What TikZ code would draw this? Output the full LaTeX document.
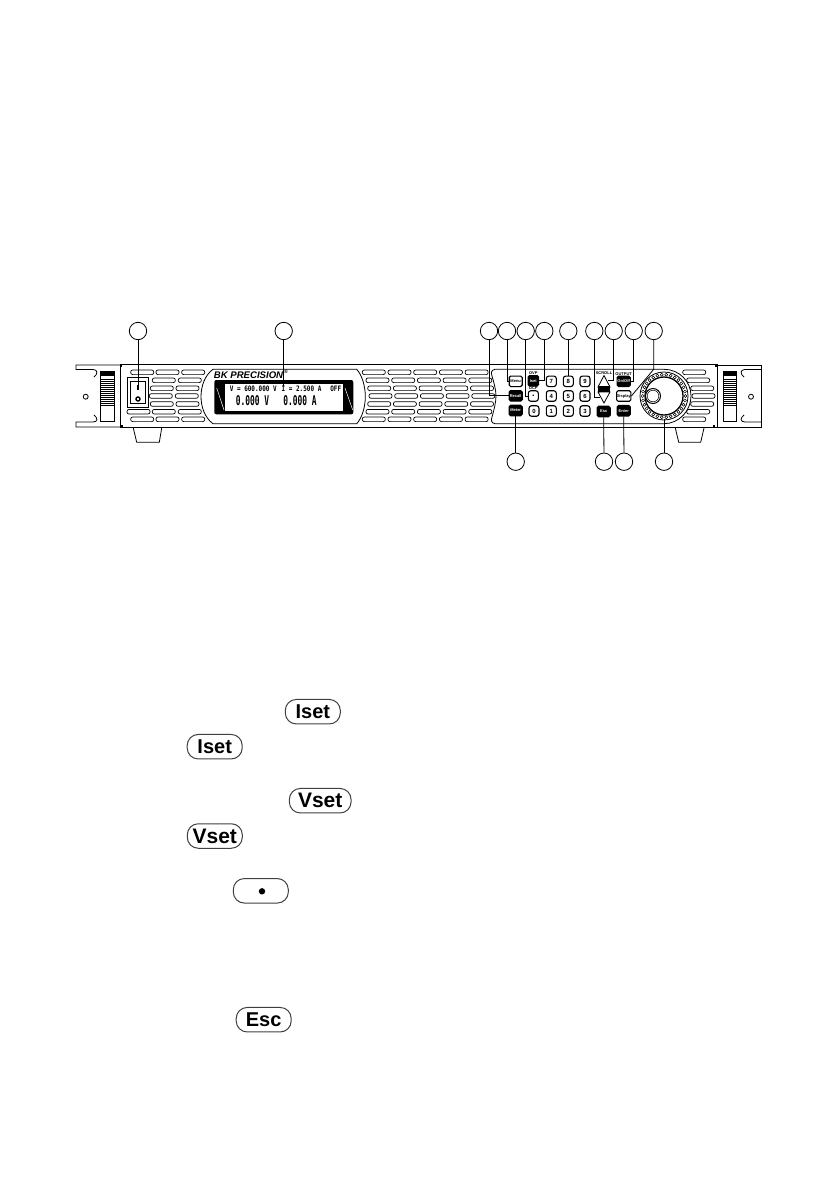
\documentclass[tikz,border=0pt]{standalone}
\usepackage{fontspec}
\setmainfont{Liberation Sans}
\newfontfamily\lcdfont{DejaVu Sans Mono}[BoldFont={DejaVu Sans Mono Bold}]
\newcommand{\lcdsmall}[1]{\scalebox{1}[1.25]{\fontsize{6}{7}\selectfont\lcdfont\bfseries #1}}
\newcommand{\lcdbig}[1]{\scalebox{1}[1.7]{\fontsize{7.9}{8}\selectfont\lcdfont\bfseries #1}}
\begin{document}
\begin{tikzpicture}[x=1pt,y=-1pt,line width=0.8pt,
	callout/.style={circle,draw,fill=white,minimum size=17.4pt,inner sep=0pt},
	slot/.style={rounded corners=2pt,line width=0.7pt},
	keycap/.style={draw,fill=white,rounded corners=1.5pt,line width=1.1pt,minimum width=13pt,minimum height=10.5pt,inner sep=0pt,font=\fontsize{4}{4}\selectfont\bfseries},
	darkcap/.style={keycap,fill=black,text=white},
	numcap/.style={keycap,minimum width=10pt,minimum height=10.5pt,rounded corners=2.5pt,font=\fontsize{6}{6}\selectfont\bfseries},
	tinylabel/.style={inner sep=0pt,font=\fontsize{4}{4}\selectfont\bfseries},
	pill/.style={draw=black!75,fill=white,rounded corners=11pt,line width=1pt,minimum width=55pt,minimum height=24.5pt,inner sep=0pt,font=\fontsize{20}{20}\selectfont\bfseries}]

	\useasboundingbox (0,0) rectangle (839,1191);

	% panel and brackets
	\draw (120,364.5) rectangle (717,427);
	\draw (120,365) -- (76,365) -- (76,369.5) -- (93,369.5) .. controls (98,369.5) and (98,374) .. (94,377);
	\draw (120,427) -- (76,427) -- (76,422) -- (93,422) .. controls (98,422) and (98,418) .. (94,415);
	\draw (717,365) -- (761.7,365) -- (761.7,427) -- (717,427);
	\draw (761.7,369.5) -- (745,369.5) .. controls (740,369.5) and (740,374) .. (744,377);
	\draw (761.7,422) -- (745,422) .. controls (740,422) and (740,418) .. (744,415);
	\draw (85.7,396.7) circle[radius=2.5pt];
	\draw (751,396.7) circle[radius=2.5pt];
	\foreach \cx/\cy in {121/365.5,122/426,716/365.5,714/426} {
		\fill (\cx-1.2,\cy-1.2) rectangle (\cx+1.2,\cy+1.2);
	}

	% handles
	\foreach \hx in {100.7,723.3} {
		\draw (\hx,371) rectangle (\hx+13.5,421.3);
		\fill (\hx,371) rectangle (\hx+13.5,375.7);
		\foreach \hy in {379,381,...,405} {
			\draw[line width=0.6pt] (\hx,\hy) -- (\hx+13.5,\hy);
		}
	}

	% feet
	\draw (133.3,428) -- (136.7,442.3) -- (159.3,442.3) -- (161.7,428);
	\draw (675.3,428) -- (678.7,442.3) -- (700.7,442.3) -- (704,428);

	% vents
	\foreach \vy/\vx in {372.3/130.7,372.3/156,372.3/181.7,
		380.3/152.3,380.3/178.3,388.3/150.3,388.3/176,396/149.3,396/175.3,404/150.3,404/176,
		411.7/127,411.7/152.3,411.7/178.3,419.3/130.7,419.3/156,419.3/181.7,
		372.3/682.7,380.3/686.7,388.3/690.7,396/692,404/690.7,411.7/686.7,419.3/682.7} {
		\draw[slot] (\vx,\vy-2.3) rectangle (\vx+23,\vy+2.3);
	}
	\foreach \vy/\vx in {372.3/362.3,380.3/366,388.3/367.7,396/369,404/367.7,411.7/366,419.3/362.3} {
		\foreach \vk in {0,1,2,3,4} {
			\draw[slot] (\vx+\vk*25.7,\vy-2.3) rectangle (\vx+\vk*25.7+23,\vy+2.3);
		}
	}

	% switch
	\draw (127,377.7) rectangle (148.7,407.3);
	\draw (130.3,381) rectangle (145.3,403.3);
	\draw[line width=1.3pt] (138,385) -- (138,390);
	\draw[line width=1.4pt] (138,399) circle[radius=2pt];

	% display
	\draw[fill=white] (213,369.3) -- (356.7,369.3) .. controls (362,375) and (365.3,386) .. (365.3,396.7) .. controls (365.3,407) and (362,418) .. (356.7,423.7) -- (213,423.7) .. controls (205,418) and (201,407) .. (201,396.7) .. controls (201,386) and (205,375) .. (213,369.3) -- cycle;
	\fill[rounded corners=2pt] (214.3,380) rectangle (353.3,414.3);
	\fill[white] (225,384) rectangle (343.3,411);
	\draw[white,line width=0.5pt] (216.7,388) -- (224,410);
	\draw[white,line width=0.5pt] (345,388) -- (352.7,410);
	\node[inner sep=0pt] (logo) at (248.5,375) {\fontsize{9.6}{10}\selectfont\bfseries\itshape BK PRECISION};
	\node[inner sep=0pt] (regmark) at (286,372) {\fontsize{5}{5}\selectfont\bfseries ®};
	\node[inner sep=0pt] (setvolt) at (253.3,389) {\lcdsmall{V = 600.000 V}};
	\node[inner sep=0pt] (setamp) at (301.5,389) {\lcdsmall{I = 2.500 A}};
	\node[inner sep=0pt] (outstate) at (335.8,389) {\lcdsmall{OFF}};
	\node[inner sep=0pt] (measvolt) at (252.5,400.7) {\lcdbig{0.000 V}};
	\node[inner sep=0pt] (measamp) at (300,400.7) {\lcdbig{0.000 A}};

	% keypad bay
	\draw (664,369.3) -- (495,369.3) .. controls (491,370) and (491,373) .. (492,376) .. controls (494,383) and (496,390) .. (496,396) .. controls (496,402) and (494,410) .. (492,417) .. controls (491,420) and (491,423) .. (495,423.7) -- (664,423.7) .. controls (678.9,423.7) and (691,410.9) .. (691,396) .. controls (691,381.1) and (678.9,369.3) .. (664,369.3);

	% knob
	\draw[fill=white] (664,396) circle[radius=24pt];
	\foreach \a in {0,12,...,348} {
		\draw[shift={(664,396)},line width=0.5pt] (\a:21.4pt) circle[radius=1.5pt];
	}
	\draw[line width=1.3pt] (664,396) circle[radius=19pt];
	\draw[fill=white,line width=1pt] (653,396) circle[radius=7.5pt];
	\draw[line width=0.5pt] (653,396) circle[radius=5.8pt];

	% keys
	\node[keycap] (menu) at (515.7,381.3) {Menu};
	\node[darkcap] (recall) at (515.7,395.8) {Recall};
	\node[darkcap] (meter) at (515.7,410.5) {Meter};
	\node[tinylabel] (overv) at (533.3,373.5) {OVP};
	\node[darkcap,minimum width=10.5pt] (iset) at (533.3,380.8) {Iset};
	\node[tinylabel] (overc) at (533.3,388.6) {OCP};
	\node[numcap,font=\fontsize{9}{9}\selectfont\bfseries] (point) at (533.3,396) {.};
	\foreach \name/\kx/\ky in {7/551.3/381.3,8/568.3/381.3,9/585/381.3,
		4/551.3/396,5/568.3/396,6/585/396,
		0/534/411,1/551.3/411,2/568.3/411,3/585/411} {
		\node[numcap] (key\name) at (\kx,\ky) {\name};
	}
	\node[tinylabel] (scroll) at (604,373) {SCROLL};
	\draw[fill=white] (604,375.5) -- (610,387) -- (598,387) -- cycle;
	\fill (598,386) rectangle (610,392);
	\draw[fill=white] (598,392) -- (610,392) -- (604,403) -- cycle;
	\node[darkcap] (esc) at (603.7,411.5) {Esc};
	\node[tinylabel] (output) at (623.7,374) {OUTPUT};
	\node[darkcap] (onoff) at (623.7,381.3) {On/Off};
	\node[keycap] (disp) at (623.7,396) {Display};
	\node[darkcap] (enter) at (623.7,410.7) {Enter};
	\coordinate (dnarrow) at (600,397);
	\coordinate (uparrow) at (607.5,380.7);
	\coordinate (bayturn) at (653.7,369.3);
	\coordinate (knobfoot) at (664,418.5);
	\coordinate (swmark) at (138,389);
	\coordinate (lcdmark) at (283.7,386);

	% callouts
	\foreach \n/\x in {1/138,2/283.7,3/489,4/507,5/525.7,6/544.3,7/568.3,8/594.3,9/613.7,10/633.7,11/653.7} {
		\node[callout] (top\n) at (\x,331) {};
	}
	\foreach \n/\x in {1/515.7,2/604,3/624,4/664} {
		\node[callout] (low\n) at (\x,461.7) {};
	}

	% leaders
	\draw (top1) -- (swmark);
	\draw (top2) -- (lcdmark);
	\draw (top3) |- (recall.west);
	\draw (top4) |- (menu.west);
	\draw (top5) |- (point.west);
	\draw (top6) |- (iset.east);
	\draw (top7) -- (key8.north);
	\draw (top8) |- (dnarrow);
	\draw (top9) |- (uparrow);
	\draw (top10) |- (onoff.east);
	\draw (top11) -- (bayturn) -- (disp.east);
	\draw (low1) -- (meter.south);
	\draw (low2) -- (esc.south);
	\draw (low3) -- (enter.south);
	\draw (low4) -- (knobfoot);

	% key pictures in the text
	\node[pill] (iseta) at (312.8,711.7) {Iset};
	\node[pill] (isetb) at (214.7,746.7) {Iset};
	\node[pill,minimum width=61.7pt,font=\fontsize{21}{21}\selectfont\bfseries] (vseta) at (320.2,800.7) {Vset};
	\node[pill,font=\fontsize{21}{21}\selectfont\bfseries] (vsetb) at (214.8,836) {Vset};
	\node[pill] (dotkey) at (260.8,890.8) {};
	\fill (262,891.3) circle[radius=3.2pt];
	\node[pill] (esckey) at (263.7,1019.7) {Esc};
\end{tikzpicture}
\end{document}
